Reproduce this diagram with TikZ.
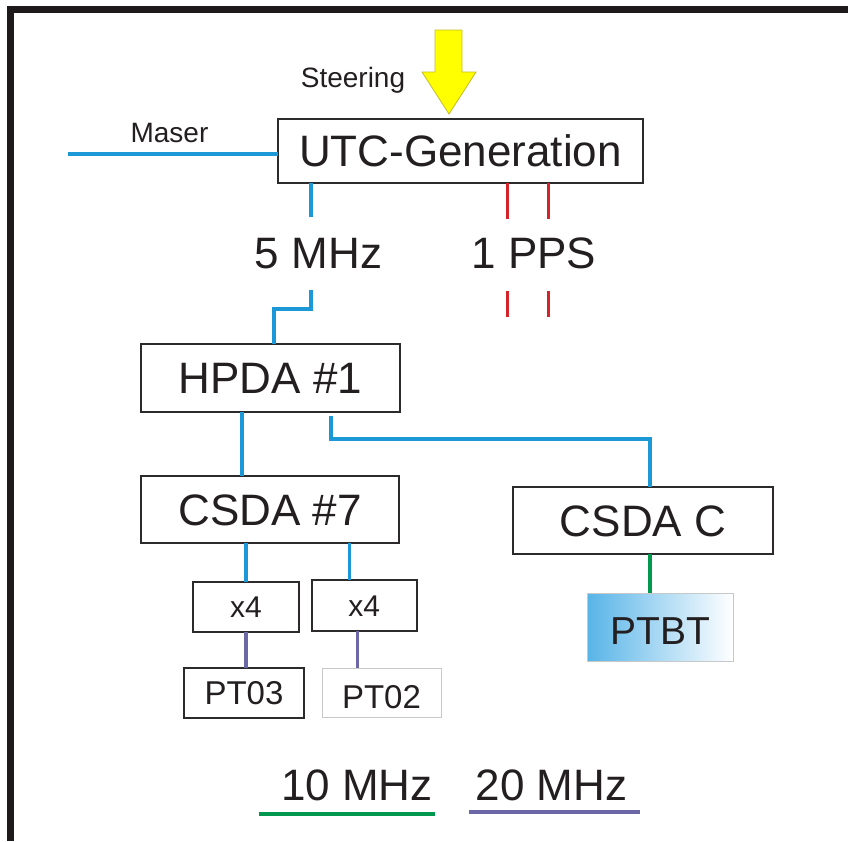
\documentclass[tikz,border=0pt]{standalone}
\usepackage{fontspec}
\setmainfont{Liberation Sans}
\definecolor{ink}{RGB}{35,31,32}
\definecolor{boxline}{RGB}{45,42,43}
\definecolor{framegray}{RGB}{30,26,27}
\definecolor{fiveblue}{RGB}{28,152,214}
\definecolor{ppsred}{RGB}{212,36,42}
\definecolor{tengreen}{RGB}{0,152,78}
\definecolor{twentyviolet}{RGB}{108,104,168}
\definecolor{steeryellow}{RGB}{255,255,0}
\definecolor{steeredge}{RGB}{196,188,40}
\definecolor{ptbtblue}{RGB}{88,180,232}
\definecolor{paleline}{RGB}{200,200,200}
\tikzset{
  big/.style={font=\fontsize{44}{48}\selectfont, text height=31.5pt},
  ptfont/.style={font=\fontsize{33}{36}\selectfont, text height=23.5pt},
  xfont/.style={font=\fontsize{30}{34}\selectfont, text height=21.5pt},
  smallfont/.style={font=\fontsize{28}{32}\selectfont}
}
\begin{document}
\begin{tikzpicture}[x=1pt,y=-1pt]
\useasboundingbox (0,0) rectangle (848,841);
% frame and steering arrow
\draw[line width=7pt, framegray] (848,9.5) -- (10.5,9.5) -- (10.5,841);
\draw[fill=steeryellow, draw=steeredge, line width=0.8pt] (435,30) -- (462,30) -- (462,72) -- (476,72) -- (449,114) -- (422,72) -- (435,72) -- cycle;
\begin{scope}[every node/.style = {draw=boxline, line width=1.5pt, inner sep=0pt, outer sep=0pt, text=ink, text depth=0pt}]
\node[big, minimum width=365pt, minimum height=64pt] (utc) at (460.5,151) {UTC-Generation};
\node[big, minimum width=259pt, minimum height=68pt] (hpda) at (270.5,378) {HPDA \#1};
\node[big, minimum width=258pt, minimum height=67pt] (csda7) at (270,509.5) {CSDA \#7};
\node[big, minimum width=260pt, minimum height=67pt] (csdac) at (643,520.5) {CSDA C};
\node[xfont, minimum width=106pt, minimum height=50pt] (x4a) at (246,607) {x4};
\node[xfont, minimum width=105pt, minimum height=51pt] (x4b) at (364.3,605.5) {x4};
\node[ptfont, minimum width=120pt, minimum height=50pt] (pt03) at (244,693) {PT03};
\node[ptfont, draw=paleline, line width=1pt, minimum width=119pt, minimum height=49pt] (pt02) at (381.5,692.5) {\raisebox{-4.5pt}{PT02}};
\node[font=\fontsize{39}{42}\selectfont, text height=28pt, draw=paleline, line width=1pt, left color=ptbtblue, right color=white, minimum width=146pt, minimum height=68pt] (ptbt) at (660,627) {\raisebox{-3pt}{PTBT}};
\end{scope}
\begin{scope}[every node/.style = {anchor=base, text=ink, inner sep=0pt}]
\node[smallfont] (maser) at (169.5,142) {Maser};
\node[smallfont] (steering) at (353,87) {Steering};
\node[big] (fivemhz) at (318.5,268) {5 MHz};
\node[big] (onepps) at (534,268) {1 PPS};
\node[big] (tenmhz) at (357,800) {10 MHz};
\node[big] (twentymhz) at (551.5,800) {20 MHz};
\end{scope}
\coordinate (maserend) at (68,154);
\coordinate (fiveup) at (311,217);
\coordinate (fivedown) at (311,290);
\coordinate (fivebend) at (274,309);
\coordinate (hpdabend) at (331,439);
\begin{scope}[line width=3.5pt]
\draw[fiveblue] (maserend) -- (maserend -| utc.west);
\draw[fiveblue] (utc.south -| fiveup) -- (fiveup);
\draw[fiveblue] (fivedown) |- (fivebend) -- (fivebend |- hpda.north);
\draw[fiveblue] ([xshift=-28.5pt]hpda.south) -- ([xshift=-28pt]csda7.north);
\draw[fiveblue] ([yshift=-4pt]hpdabend |- hpda.south) -- (hpdabend) -| ([xshift=7pt]csdac.north);
\draw[fiveblue] (csda7.south -| x4a.north) -- (x4a.north);
\draw[fiveblue] ([xshift=-15pt]x4b.north |- csda7.south) -- ([xshift=-15pt]x4b.north);
\draw[twentyviolet] (x4a.south) -- (x4a.south |- pt03.north);
\draw[twentyviolet] ([xshift=-7pt]x4b.south) -- ([xshift=-7pt]x4b.south |- pt02.north);
\draw[tengreen] ([xshift=7pt]csdac.south) -- ([xshift=7pt]csdac.south |- ptbt.north);
\end{scope}
% 1 PPS pairs
\begin{scope}[line width=3pt, ppsred]
\foreach \x/\n in {507/a, 548/b} {
  \coordinate (pps\n up) at (\x,219);
  \coordinate (pps\n low) at (\x,291);
  \draw (utc.south -| pps\n up) -- (pps\n up);
  \draw (pps\n low) -- ++(0,26);
}
\end{scope}
% legend underlines
\draw[tengreen, line width=4pt] ([shift={(-22pt,-14pt)}]tenmhz.base west) -- ([shift={(2pt,-14pt)}]tenmhz.base east);
\draw[twentyviolet, line width=4pt] ([shift={(-7pt,-12pt)}]twentymhz.base west) -- ([shift={(12pt,-12pt)}]twentymhz.base east);
\end{tikzpicture}
\end{document}
